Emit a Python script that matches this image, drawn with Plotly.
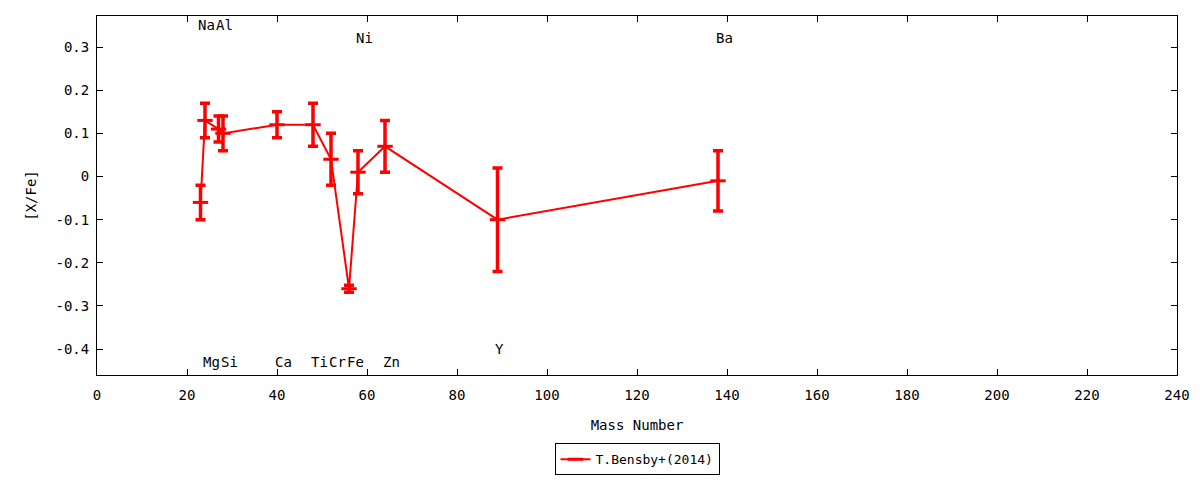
import plotly.graph_objects as go

# T.Bensby+(2014): [X/Fe] gegen Massenzahl
elements = ["Na", "Mg", "Al", "Si", "Ca", "Ti", "Cr", "Fe", "Ni", "Zn", "Y", "Ba"]
mass = [23, 24, 27, 28, 40, 48, 52, 56, 58, 64, 89, 138]
x_fe = [-0.06, 0.13, 0.11, 0.10, 0.12, 0.12, 0.04, -0.26, 0.01, 0.07, -0.10, -0.01]
x_fe_err = [0.04, 0.04, 0.03, 0.04, 0.03, 0.05, 0.06, 0.008, 0.05, 0.06, 0.12, 0.07]
label_y = [0.35, -0.43, 0.35, -0.43, -0.43, -0.43, -0.43, -0.43, 0.32, -0.43, -0.40, 0.32]

x_ticks = list(range(0, 241, 20))
y_ticks = [-0.4, -0.3, -0.2, -0.1, 0, 0.1, 0.2, 0.3]
y_tick_text = ["-0.4", "-0.3", "-0.2", "-0.1", "0", "0.1", "0.2", "0.3"]

FONT = "DejaVu Sans Mono"

fig = go.Figure()

fig.add_trace(go.Scatter(
    x=mass,
    y=x_fe,
    mode="lines+markers",
    name="T.Bensby+(2014)",
    line=dict(color="#ff0000", width=2),
    marker=dict(symbol="line-ew", size=11, line=dict(color="#ff0000", width=3)),
    error_y=dict(type="data", array=x_fe_err, visible=True,
                 color="#ff0000", thickness=3.5, width=5),
))

# Elementnamen als Beschriftung
for el, m, ly in zip(elements, mass, label_y):
    fig.add_annotation(x=m - 1, y=ly, text=el, showarrow=False,
                       xanchor="left", yanchor="middle",
                       font=dict(family=FONT, size=14, color="black"))

axis_style = dict(
    showgrid=False, zeroline=False,
    showline=True, linecolor="black", linewidth=1, mirror="ticks",
    ticks="inside", ticklen=6, tickcolor="black",
    tickfont=dict(family=FONT, size=14, color="black"),
)

fig.update_xaxes(range=[0, 240], tickvals=x_ticks, ticklabelstandoff=7,
                 title=dict(text="Mass Number", font=dict(family=FONT, size=14), standoff=18),
                 **axis_style)
fig.update_yaxes(range=[-0.46, 0.372], tickvals=y_ticks, ticktext=y_tick_text,
                 ticklabelstandoff=4,
                 title=dict(text="[X/Fe]", font=dict(family=FONT, size=14), standoff=15),
                 **axis_style)

# Seite hat 8px Rand -> Ränder entsprechend verschoben
fig.update_layout(
    width=1200, height=480,
    margin=dict(l=89, r=31, t=8, b=113),
    plot_bgcolor="white", paper_bgcolor="white",
    font=dict(family=FONT, size=14, color="black"),
    showlegend=True,
    legend=dict(orientation="h", x=0.5, xanchor="center", y=-0.235, yanchor="middle",
                bordercolor="black", borderwidth=1, bgcolor="white",
                font=dict(family=FONT, size=13)),
)

fig.write_html("out.html")
